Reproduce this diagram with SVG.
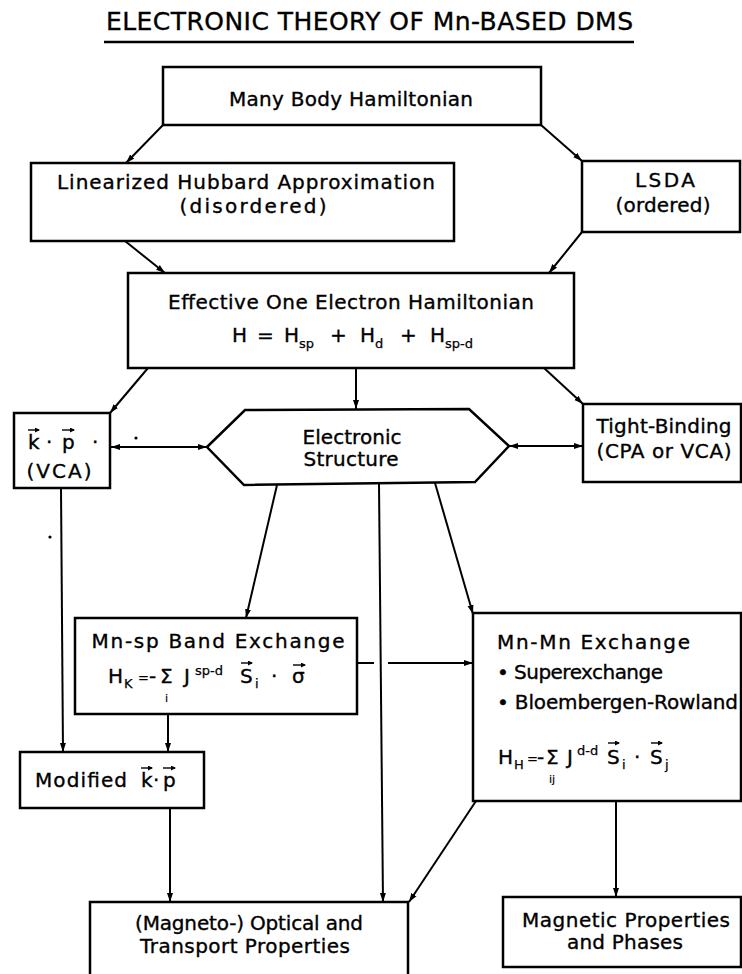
<svg xmlns="http://www.w3.org/2000/svg" width="742" height="974" viewBox="0 0 742 974">
<defs>
<marker id="ah" markerUnits="userSpaceOnUse" markerWidth="10" markerHeight="8" refX="9" refY="3.5" orient="auto-start-reverse"><path d="M0,0.5 L9,3.5 L0,6.5 z" fill="#000"/></marker>
<marker id="va" markerUnits="userSpaceOnUse" markerWidth="6" markerHeight="6" refX="4" refY="2.5" orient="auto"><path d="M0,0 L5,2.5 L0,5 z" fill="#000"/></marker>
</defs>
<style>
.box{fill:#fff;stroke:#000;stroke-width:2.5}
.c{fill:none;stroke:#000;stroke-width:2}
.a{marker-end:url(#ah)}
.aa{marker-start:url(#ah);marker-end:url(#ah)}
.t{font-family:"DejaVu Sans","Liberation Sans",sans-serif;font-size:20px;fill:#000;stroke:#000;stroke-width:0.35}
.m{text-anchor:middle}
.s{font-size:13px;stroke-width:0.25}
.u{font-size:11px;stroke-width:0.2}
.vec{stroke:#000;stroke-width:1.4;fill:none;marker-end:url(#va)}
</style>
<rect x="0" y="0" width="742" height="974" fill="#fff"/>

<g id="title">
<text class="t m" x="369.5" y="30" style="font-size:25px" textLength="527" lengthAdjust="spacing">ELECTRONIC THEORY OF Mn-BASED DMS</text>
<line x1="104" y1="42" x2="634" y2="42" stroke="#000" stroke-width="2.5"/>
</g>

<g id="connectors">
<path class="c a" d="M163,125 L126,163"/>
<path class="c a" d="M541,125 L582,161"/>
<path class="c a" d="M125,241 L165,273"/>
<path class="c a" d="M582,232 L549,273"/>
<path class="c a" d="M148,368 L110,413"/>
<path class="c a" d="M356,368 L356,409"/>
<path class="c a" d="M544,368 L583,404"/>
<path class="c aa" d="M111,447 L207,447"/>
<path class="c aa" d="M509,446 L583,446"/>
<path class="c a" d="M277,485 L246,618"/>
<path class="c a" d="M379,484 L383,902"/>
<path class="c a" d="M435,483 L473,614"/>
<path class="c a" d="M61,488 L63,752"/>
<path class="c" d="M357,663 L374,663"/>
<path class="c a" d="M388,663 L473,663"/>
<path class="c a" d="M168,714 L168,752"/>
<path class="c a" d="M170,808 L170,902"/>
<path class="c a" d="M476,801 L409,902"/>
<path class="c a" d="M616,801 L616,897"/>
</g>

<g id="many-body">
<rect class="box" x="163" y="67" width="378" height="58"/>
<text class="t m" x="351" y="106" textLength="244" lengthAdjust="spacing">Many Body Hamiltonian</text>
</g>

<g id="linearized">
<rect class="box" x="31" y="163" width="423" height="78"/>
<text class="t m" x="246" y="189" textLength="378" lengthAdjust="spacing">Linearized Hubbard Approximation</text>
<text class="t m" x="253" y="213" textLength="147" lengthAdjust="spacing">(disordered)</text>
</g>

<g id="lsda">
<rect class="box" x="582" y="161" width="158" height="71"/>
<text class="t m" x="665" y="187" textLength="60" lengthAdjust="spacing">LSDA</text>
<text class="t m" x="663" y="212" textLength="95" lengthAdjust="spacing">(ordered)</text>
</g>

<g id="effective">
<rect class="box" x="128" y="273" width="446" height="95"/>
<text class="t m" x="351" y="309" textLength="366" lengthAdjust="spacing">Effective One Electron Hamiltonian</text>
<text class="t" y="342"><tspan x="232">H</tspan><tspan x="257">=</tspan><tspan x="284">H</tspan><tspan x="299" y="348" class="s">sp</tspan><tspan x="330" y="342">+</tspan><tspan x="360">H</tspan><tspan x="375" y="348" class="s">d</tspan><tspan x="400" y="342">+</tspan><tspan x="430">H</tspan><tspan x="445" y="348" class="s">sp-d</tspan></text>
</g>

<g id="kp">
<rect class="box" x="14" y="413" width="96" height="75"/>
<text class="t" y="449"><tspan x="28">k</tspan><tspan x="46">·</tspan><tspan x="62">p</tspan><tspan x="92">·</tspan></text>
<path class="vec" d="M28,430 H39"/>
<path class="vec" d="M62,430 H74"/>
<text class="t m" x="59" y="478" textLength="65" lengthAdjust="spacing">(VCA)</text>
<circle cx="136" cy="438" r="1.6" fill="#000"/>
</g>

<g id="electronic-structure">
<polygon class="box" points="207,447 245,410 469,409 509,446 475,482 244,485"/>
<text class="t m" x="352" y="444" textLength="99" lengthAdjust="spacing">Electronic</text>
<text class="t m" x="351" y="466" textLength="95" lengthAdjust="spacing">Structure</text>
</g>

<g id="tight-binding">
<rect class="box" x="583" y="404" width="158" height="78"/>
<text class="t m" x="664" y="433" textLength="135" lengthAdjust="spacing">Tight-Binding</text>
<text class="t m" x="664" y="458" textLength="135" lengthAdjust="spacing">(CPA or VCA)</text>
</g>

<circle cx="50" cy="537" r="1.6" fill="#000"/>

<g id="mn-sp">
<rect class="box" x="75" y="618" width="282" height="96"/>
<text class="t m" x="218" y="648" textLength="253" lengthAdjust="spacing">Mn-sp Band Exchange</text>
<text class="t" y="683"><tspan x="108">H</tspan><tspan x="124" y="688" class="s">K</tspan><tspan x="138" y="682" class="s">=</tspan><tspan x="149" y="683">-</tspan><tspan x="160" y="683">Σ</tspan><tspan x="184" y="683">J</tspan><tspan x="195" y="675" class="s">sp-d</tspan><tspan x="240" y="683">S</tspan><tspan x="255" y="688" class="s">i</tspan><tspan x="271" y="683">·</tspan><tspan x="292" y="683">σ</tspan></text>
<text class="t u" x="165" y="702">i</text>
<path class="vec" d="M241,663 H252"/>
<path class="vec" d="M293,665 H305"/>
</g>

<g id="mn-mn">
<rect class="box" x="473" y="613" width="268" height="188"/>
<text class="t" x="497" y="649" textLength="193" lengthAdjust="spacing">Mn-Mn Exchange</text>
<text class="t" x="497" y="679" textLength="166" lengthAdjust="spacing">• Superexchange</text>
<text class="t" x="497" y="709" textLength="241" lengthAdjust="spacing">• Bloembergen-Rowland</text>
<text class="t" y="764"><tspan x="498">H</tspan><tspan x="514" y="769" class="s">H</tspan><tspan x="527" y="763" class="s">=</tspan><tspan x="537" y="764">-</tspan><tspan x="546" y="764">Σ</tspan><tspan x="567" y="764">J</tspan><tspan x="577" y="755" class="s">d-d</tspan><tspan x="607" y="764">S</tspan><tspan x="622" y="769" class="s">i</tspan><tspan x="634" y="764">·</tspan><tspan x="650" y="764">S</tspan><tspan x="665" y="769" class="s">j</tspan></text>
<text class="t u" x="549" y="783">ij</text>
<path class="vec" d="M608,743 H619"/>
<path class="vec" d="M651,743 H662"/>
</g>

<g id="modified-kp">
<rect class="box" x="20" y="752" width="184" height="56"/>
<text class="t" y="787"><tspan x="35" textLength="92" lengthAdjust="spacing">Modified</tspan><tspan x="141">k</tspan><tspan x="153">·</tspan><tspan x="163">p</tspan></text>
<path class="vec" d="M141,768 H152"/>
<path class="vec" d="M163,768 H175"/>
</g>

<g id="optical">
<rect class="box" x="90" y="902" width="318" height="100"/>
<text class="t m" x="249" y="930" textLength="228" lengthAdjust="spacing">(Magneto-) Optical and</text>
<text class="t m" x="245" y="953" textLength="210" lengthAdjust="spacing">Transport Properties</text>
</g>

<g id="magnetic">
<rect class="box" x="503" y="897" width="238" height="70"/>
<text class="t m" x="626" y="927" textLength="208" lengthAdjust="spacing">Magnetic Properties</text>
<text class="t m" x="625" y="949" textLength="116" lengthAdjust="spacing">and Phases</text>
</g>
</svg>
